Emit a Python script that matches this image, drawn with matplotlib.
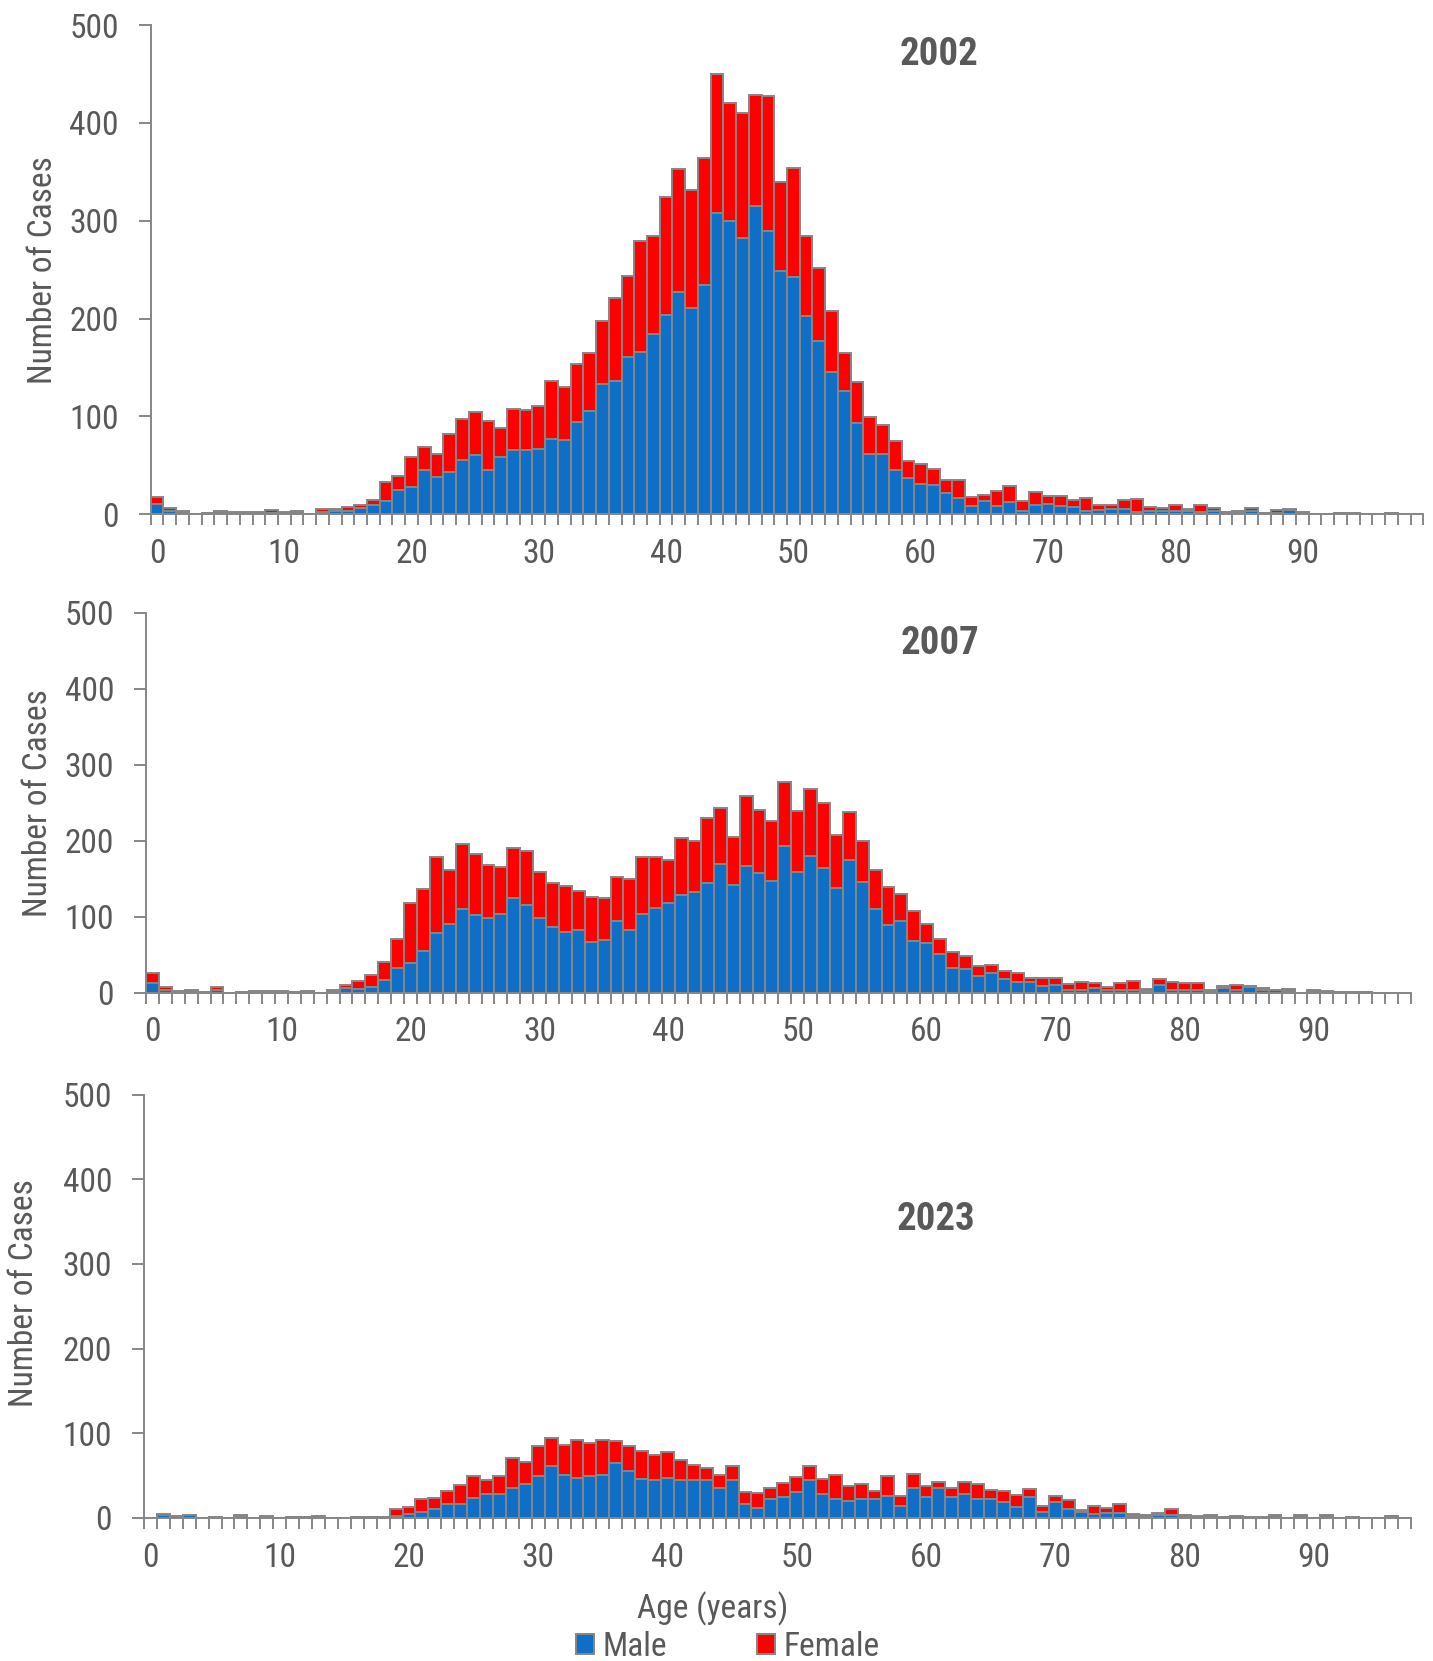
import numpy as np
import matplotlib
matplotlib.use("Agg")
import matplotlib.pyplot as plt
from matplotlib.patches import Patch
from matplotlib.ticker import FixedLocator

# narrow face, close to the Arial Narrow used in the original
plt.rcParams['font.family'] = ['Roboto Condensed', 'Archivo Narrow', 'Liberation Sans', 'DejaVu Sans']

# cases by single year of age
male_2002 = [11, 3, 2, 0, 1, 2, 1, 1, 1, 1, 1, 2, 0, 2, 3, 3, 6, 9, 14, 25,
             28, 45, 38, 43, 55, 61, 45, 59, 66, 66, 67, 77, 76, 94, 106, 133, 136, 161, 166, 184,
             204, 227, 211, 234, 308, 300, 282, 315, 290, 249, 243, 203, 177, 145, 126, 93, 62, 62, 45, 37,
             31, 30, 22, 17, 8, 14, 8, 13, 3, 10, 11, 8, 7, 3, 4, 5, 5, 2, 3, 3,
             3, 3, 2, 3, 1, 2, 3, 1, 1, 4, 1, 0, 0, 1, 1, 0, 0, 1, 0, 0]
female_2002 = [7, 3, 1, 0, 0, 1, 1, 1, 1, 3, 1, 1, 0, 3, 2, 4, 4, 6, 19, 14,
               31, 24, 24, 39, 42, 44, 50, 29, 42, 41, 44, 59, 54, 60, 59, 65, 85, 83, 113, 100,
               120, 126, 120, 130, 142, 120, 128, 113, 137, 91, 111, 81, 75, 63, 39, 42, 37, 29, 30, 17,
               20, 16, 13, 18, 10, 6, 16, 16, 11, 13, 8, 11, 8, 14, 6, 5, 10, 14, 4, 3,
               6, 2, 7, 3, 1, 1, 3, 0, 3, 1, 1, 0, 0, 0, 0, 0, 0, 0, 0, 0]

male_2007 = [13, 4, 1, 2, 1, 3, 0, 1, 1, 1, 1, 1, 1, 0, 2, 6, 5, 8, 17, 33,
             39, 55, 79, 90, 110, 102, 98, 103, 124, 115, 98, 87, 80, 82, 67, 69, 94, 83, 104, 112,
             118, 129, 133, 145, 169, 142, 167, 158, 147, 193, 159, 180, 164, 138, 175, 146, 110, 89, 94, 68,
             66, 51, 32, 31, 22, 26, 18, 14, 14, 9, 10, 3, 3, 6, 3, 3, 4, 2, 10, 3,
             3, 3, 2, 6, 3, 7, 4, 3, 2, 0, 2, 1, 1, 1, 1, 0, 0, 0]
female_2007 = [13, 3, 1, 1, 0, 4, 0, 0, 1, 1, 1, 0, 1, 0, 1, 4, 10, 15, 24, 38,
               79, 82, 100, 71, 86, 80, 70, 63, 66, 72, 61, 58, 60, 52, 59, 55, 58, 66, 74, 66,
               57, 75, 67, 85, 74, 63, 92, 83, 79, 84, 80, 88, 86, 69, 63, 54, 52, 50, 36, 39,
               25, 20, 22, 17, 13, 10, 10, 12, 5, 10, 9, 8, 11, 7, 4, 10, 12, 3, 8, 11,
               10, 10, 2, 3, 7, 2, 2, 1, 3, 0, 1, 1, 0, 0, 0, 0, 0, 0]

male_2023 = [0, 4, 2, 3, 0, 1, 0, 2, 0, 1, 0, 1, 1, 1, 0, 0, 1, 1, 1, 2,
             5, 7, 11, 17, 17, 24, 28, 28, 36, 40, 49, 61, 51, 47, 49, 51, 65, 56, 46, 45,
             47, 45, 45, 45, 36, 45, 17, 12, 23, 25, 31, 45, 28, 23, 20, 23, 22, 26, 14, 35,
             25, 35, 25, 28, 23, 22, 19, 13, 25, 7, 19, 11, 7, 5, 6, 6, 2, 1, 3, 3,
             1, 1, 2, 1, 0, 1, 1, 1, 0, 1, 0, 1, 0, 1, 0, 0, 2, 0]
female_2023 = [0, 1, 0, 1, 0, 0, 0, 1, 0, 1, 0, 0, 0, 1, 0, 0, 0, 0, 0, 9,
               8, 15, 13, 15, 22, 25, 17, 22, 35, 26, 36, 33, 35, 45, 39, 41, 26, 29, 33, 29,
               31, 24, 17, 14, 15, 16, 14, 17, 12, 16, 17, 16, 18, 28, 18, 17, 10, 24, 12, 17,
               13, 8, 10, 15, 17, 11, 13, 14, 9, 7, 7, 10, 2, 9, 6, 10, 3, 3, 3, 8,
               3, 1, 1, 0, 2, 0, 0, 3, 0, 3, 0, 2, 0, 0, 0, 0, 0, 0]

years = ["2002", "2007", "2023"]
male_series = [male_2002, male_2007, male_2023]
female_series = [female_2002, female_2007, female_2023]

BLUE = "#0F6FC6"
RED = "#FF0000"
EDGE = "#868686"
TEXT = "#595959"
W, H = 1433, 1661

fig = plt.figure(figsize=(W / 100, H / 100), dpi=100)

# axes boxes in pixels: left, right, y of 0, y of 500
boxes = [(150.7, 1423.3, 514.3, 25.0),
         (146.0, 1410.7, 992.7, 612.7),
         (144.0, 1410.7, 1518.0, 1094.5)]
# label anchor is the right edge of the rotated text
ylabel_pos = [(-0.072, 0.50), (-0.073, 0.50), (-0.082, 0.53)]
title_pos = [(0.6195, 0.939), (0.628, 0.918), (0.625, 0.704)]

for i, (year, male, female) in enumerate(zip(years, male_series, female_series)):
    l, r, y0, y1 = boxes[i]
    ax = fig.add_axes([l / W, 1 - y0 / H, (r - l) / W, (y0 - y1) / H])
    ages = np.arange(len(male))
    ax.bar(ages, male, width=1.0, color=BLUE, edgecolor=EDGE, linewidth=1.4)
    ax.bar(ages, female, bottom=male, width=1.0, color=RED, edgecolor=EDGE, linewidth=1.4)

    ax.set_xlim(-0.5, len(male) - 0.5)
    ax.set_ylim(0, 500)
    ax.set_yticks(range(0, 501, 100))
    ax.set_xticks(range(0, len(male), 10))
    ax.xaxis.set_minor_locator(FixedLocator(np.arange(-0.5, len(male), 1.0)))
    ax.tick_params(axis='x', which='major', length=0, pad=17, labelsize=24, labelcolor=TEXT)
    ax.tick_params(axis='x', which='minor', length=8, width=1.4, color=EDGE)
    ax.tick_params(axis='y', length=9, width=1.4, color=EDGE, pad=14, labelsize=24, labelcolor=TEXT)
    for s in ['top', 'right']:
        ax.spines[s].set_visible(False)
    for s in ['left', 'bottom']:
        ax.spines[s].set_color(EDGE)
        ax.spines[s].set_linewidth(1.4)

    ax.set_ylabel("Number of Cases", fontsize=24, color=TEXT)
    ax.yaxis.set_label_coords(*ylabel_pos[i])
    ax.text(title_pos[i][0], title_pos[i][1], year, transform=ax.transAxes,
            ha='center', va='center', fontsize=28, fontweight='bold', color=TEXT)

fig.text(713 / W, 1 - 1609 / H, "Age (years)", ha='center', va='center', fontsize=24, color=TEXT)

handles = [Patch(facecolor=BLUE, edgecolor=EDGE, linewidth=1.4, label="Male"),
           Patch(facecolor=RED, edgecolor=EDGE, linewidth=1.4, label="Female")]
leg = fig.legend(handles=handles, loc='center', bbox_to_anchor=(0.508, 1 - 1647 / H), ncol=2,
                 frameon=False, fontsize=24, handlelength=0.55, handleheight=0.55,
                 handletextpad=0.25, columnspacing=2.7, borderpad=0)
for t in leg.get_texts():
    t.set_color(TEXT)

fig.savefig("out.png", dpi=100)
